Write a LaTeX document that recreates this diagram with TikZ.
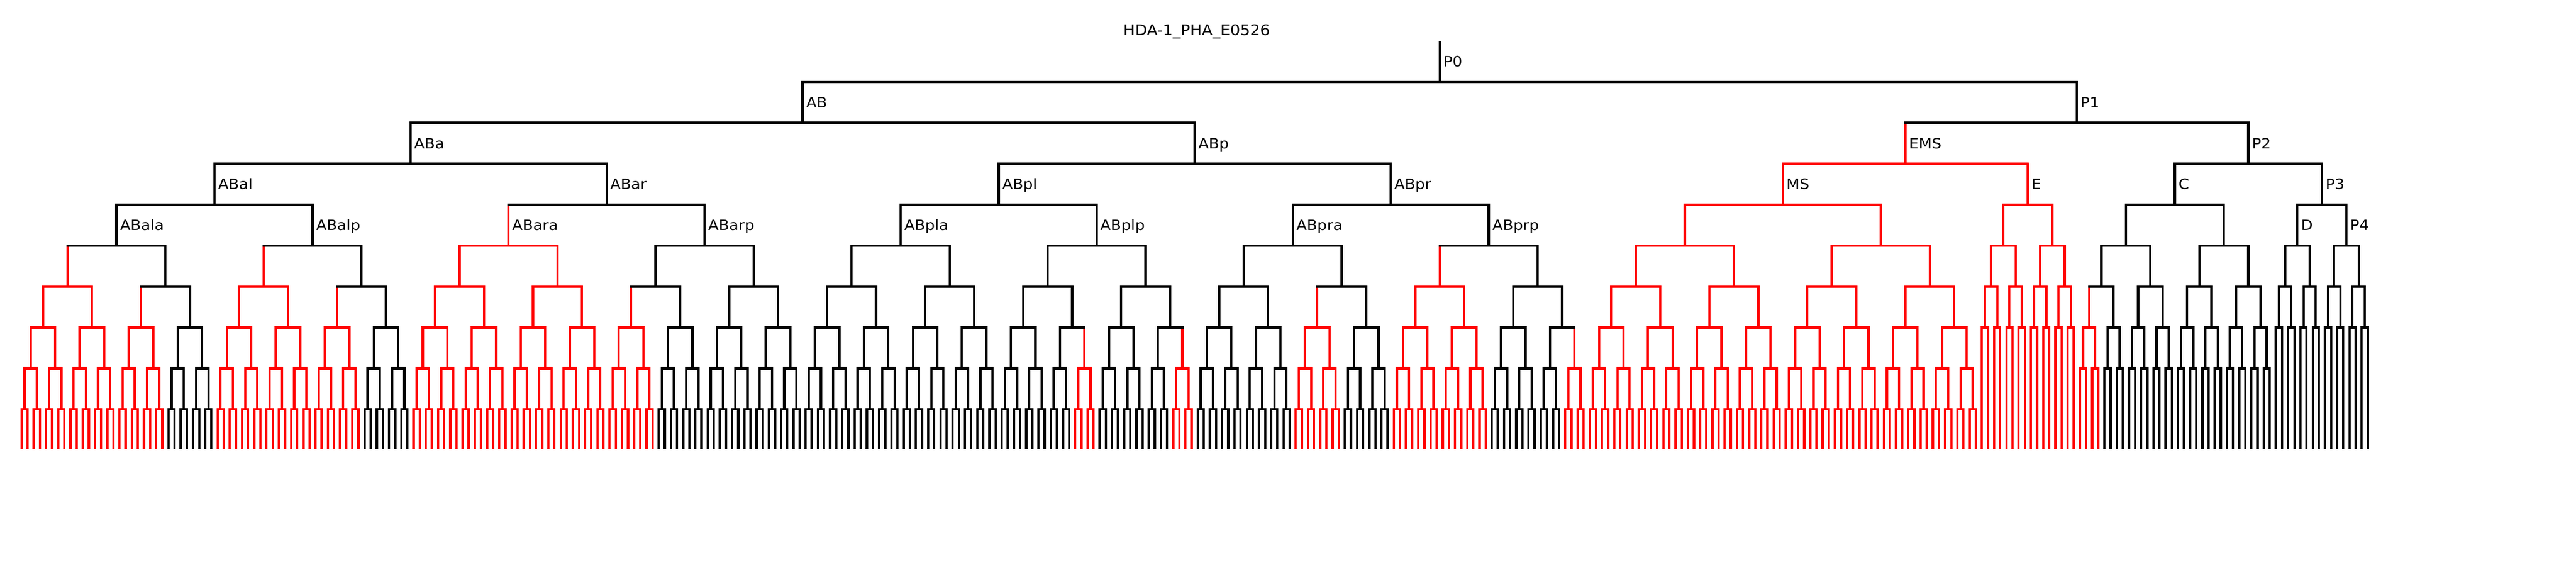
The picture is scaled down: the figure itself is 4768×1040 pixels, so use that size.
\documentclass[tikz,border=0pt]{standalone}
\usepackage{fontspec}
\setmainfont{DejaVu Sans}[FakeStretch=1.07]
\tikzset{
	branch/.style={line width=0.85mm},
	divbar/.style={line width=0.85mm, line cap=rect},
	cellname/.style={anchor=base west, inner sep=0pt, font=\fontsize{15}{18}\selectfont}
}
% cells that switch on (first leaf, number of leaves)
\def\onset#1#2{\expandafter\def\csname onset@#1@#2\endcsname{}}
\onset{0}{16}\onset{16}{8}\onset{32}{16}\onset{48}{8}
\onset{64}{32}\onset{96}{8}\onset{172}{4}\onset{188}{4}
\onset{208}{8}\onset{224}{16}\onset{252}{4}\onset{336}{4}
% \subtree{first leaf}{leaves}{generation}{colour}
\def\subtree#1#2#3#4{%
	\begingroup
	\def\stcol{#4}%
	\ifcsname onset@#1@#2\endcsname\def\stcol{red}\fi
	\pgfmathsetmacro\stx{39.8+11.339*(#1+(#2-1)/2)}%
	\pgfmathsetmacro\sty{76+75.8*#3}%
	\ifnum#2=1\relax
		\draw[branch, color=\stcol] (\stx,\sty) -- (\stx,832);
	\else
		\pgfmathsetmacro\styd{76+75.8*(#3+1)}%
		\pgfmathtruncatemacro\sthalf{#2/2}%
		\pgfmathtruncatemacro\stright{#1+#2/2}%
		\pgfmathtruncatemacro\stgen{#3+1}%
		\pgfmathsetmacro\stxl{39.8+11.339*(#1+(\sthalf-1)/2)}%
		\pgfmathsetmacro\stxr{39.8+11.339*(\stright+(\sthalf-1)/2)}%
		\draw[branch, color=\stcol] (\stx,\sty) -- (\stx,\styd);
		\edef\stnext{\noexpand\subtree{#1}{\sthalf}{\stgen}{\stcol}\noexpand\subtree{\stright}{\sthalf}{\stgen}{\stcol}}%
		\stnext
		\draw[divbar, color=\stcol] (\stxl,\styd) -- (\stxr,\styd);
	\fi
	\endgroup}

\begin{document}
\begin{tikzpicture}[x=0.2mm, y=-0.2mm]
			%%%%% START %%%%%
			\useasboundingbox (0,0) rectangle (4768,1040);
			
			\node[anchor=base, inner sep=0pt, font=\fontsize{15.4}{18}\selectfont] (title) at (2215,65) {HDA-1\_PHA\_E0526};
			
			\subtree{0}{256}{1}{black}
			\subtree{256}{64}{3}{red}
			\subtree{320}{16}{3}{red}
			\subtree{336}{32}{3}{black}
			\subtree{368}{8}{4}{black}
			\subtree{376}{8}{4}{black}
			
			\draw[branch] (2664.8,76) -- (2664.8,151.8);
			\draw[branch] (3844.0,151.8) -- (3844.0,227.6);
			\draw[branch, color=red] (3526.5,227.6) -- (3526.5,303.4);
			\draw[branch] (4161.5,227.6) -- (4161.5,303.4);
			\draw[branch] (4297.6,303.4) -- (4297.6,379.2);
			
			\draw[divbar] (1485.5,151.8) -- (3844.0,151.8);
			\draw[divbar] (3526.5,227.6) -- (4161.5,227.6);
			\draw[divbar, color=red] (3299.8,303.4) -- (3753.3,303.4);
			\draw[divbar] (4025.5,303.4) -- (4297.6,303.4);
			\draw[divbar] (4252.2,379.2) -- (4343.0,379.2);
			
			\foreach \name/\i/\g in {P0/231.5/0, AB/127.5/1, P1/335.5/1, ABa/63.5/2, ABp/191.5/2, EMS/307.5/2, P2/363.5/2,
				ABal/31.5/3, ABar/95.5/3, ABpl/159.5/3, ABpr/223.5/3, MS/287.5/3, E/327.5/3, C/351.5/3, P3/375.5/3,
				ABala/15.5/4, ABalp/47.5/4, ABara/79.5/4, ABarp/111.5/4, ABpla/143.5/4, ABplp/175.5/4, ABpra/207.5/4, ABprp/239.5/4, D/371.5/4, P4/379.5/4}
				\node[cellname] (lab-\name) at ({46.3+11.339*\i},{123.4+75.8*\g}) {\name};
			
			%%%%% END %%%%%
\end{tikzpicture}
\end{document}
